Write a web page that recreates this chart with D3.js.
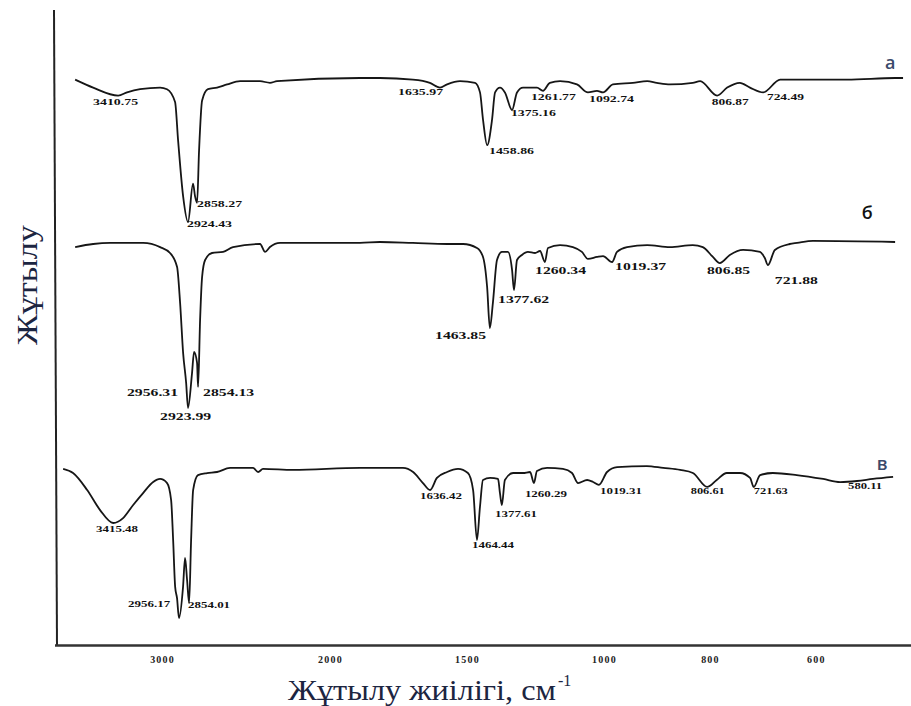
<!DOCTYPE html>
<html>
<head>
<meta charset="utf-8">
<script src="https://cdn.jsdelivr.net/npm/d3@7"></script>
<style>
  body { margin: 0; background: #fff; }
  svg { display: block; }
</style>
</head>
<body>
<div id="chart"></div>
<script>
// IR spectra: [wavenumber cm-1, transmittance %]
var specA = [
  [3595,94],[3488,89],[3339,84],[3286,86],[3208,88],[3089,89],[3048,88],[3000,80],[2982,56],[2952,21],
  [2923,5],[2893,29],[2881,21],[2869,17],[2857,50],[2839,81],[2804,88],[2750,89],[2690,91],[2613,93],
  [2494,93],[2435,92],[2393,93],[1938,95],[1865,95],[1745,94],[1683,92],[1646,89],[1620,91],[1573,93],
  [1518,92],[1500,86],[1489,69],[1474,53],[1456,69],[1445,86],[1427,89],[1409,86],[1383,75],[1365,86],
  [1343,89],[1292,89],[1270,87],[1245,92],[1208,93],[1146,91],[1106,86],[1073,87],[1051,86],[1015,91],
  [970,92],[943,93],[925,92],[900,91],[857,92],[843,93],[811,84],[792,89],[768,92],[749,89],
  [724,86],[692,94],[630,94],[566,94],[475,95],[460,95]
];
var specB = [
  [3595,93.3],[3488,95],[3387,95.6],[3190,95.6],[3089,93.3],[3030,90],[2988,82.2],[2970,62.2],[2952,34.4],[2934,17.8],
  [2923,3.9],[2899,23.3],[2887,35],[2869,28.9],[2863,15.6],[2851,52.8],[2839,76.7],[2821,86.1],[2780,90],[2714,90.6],
  [2655,93.3],[2494,95],[2464,90.6],[2435,93.3],[2375,95.6],[1938,95.6],[1865,96.1],[1745,95.6],[1620,95],[1562,95],
  [1511,92.8],[1489,87.8],[1474,71.1],[1464,48.3],[1453,62.2],[1438,86.1],[1420,90.6],[1398,90.6],[1383,80.6],[1376,69.4],
  [1365,86.1],[1347,88.9],[1325,90.6],[1299,90],[1281,91.1],[1263,85],[1252,92.8],[1208,94.4],[1161,93.3],[1128,90.6],
  [1106,86.7],[1073,87.8],[1051,88.3],[1018,85],[1000,90.6],[981,93.3],[943,94.4],[900,93.3],[857,94.4],[838,93.3],
  [819,87.8],[806,84.4],[787,88.9],[762,91.7],[730,90.6],[721,87.2],[715,83.3],[702,91.7],[674,95],[660,95.6],
  [630,96.7],[475,96.1]
];
var specC = [
  [3601,91.8],[3542,89.4],[3458,79.4],[3381,67.6],[3303,60],[3244,62.9],[3184,70.6],[3125,77.6],[3065,84.1],[3024,85.9],
  [2982,83.5],[2958,73.5],[2946,50],[2934,22.4],[2923,15.9],[2911,4.1],[2887,22.4],[2875,39.4],[2863,26.5],[2851,12.9],
  [2839,50],[2827,79.4],[2798,88.2],[2744,89.4],[2685,90],[2607,92.4],[2470,92.4],[2440,90],[2411,91.8],[2232,91.2],
  [1898,92.4],[1825,92.4],[1741,92.4],[1704,90],[1668,83.5],[1642,79.4],[1617,86.5],[1580,90],[1540,91.8],[1504,89.4],
  [1485,79.4],[1471,50],[1460,69.4],[1449,85.3],[1423,86.5],[1394,85.9],[1387,77.6],[1380,70.6],[1369,85.3],[1339,89.4],
  [1303,89.4],[1277,90],[1263,83.5],[1252,90.6],[1215,92.4],[1157,91.8],[1124,89.4],[1102,83.5],[1069,85.3],[1047,84.1],
  [1026,82.4],[998,90],[979,92.9],[923,93.5],[892,92.4],[860,91.2],[836,89.4],[809,81.2],[791,85.3],[772,89.4],
  [747,89.4],[728,86.5],[721,81.2],[709,88.2],[685,89.4],[640,88.2],[590,85.9],[558,84.1],[526,84.7],[496,85.9],
  [458,87.1]
];

// peak labels: [anchor wavenumber, anchor transmittance, text]
var peaksA = [
  [3488,78.1,"3410.75"],[2929,1.9,"2924.43"],[2869,14.4,"2858.27"],[1799,84.4,"1635.97"],[1467,47.5,"1458.86"],
  [1387,71.3,"1375.16"],[1314,81.3,"1261.77"],[1102,80,"1092.74"],[821,78.1,"806.87"],[717,81.3,"724.49"]
];
var peaksB = [
  [3286,10.6,"2956.31"],[2833,10.6,"2854.13"],[3089,-2.8,"2923.99"],[1664,42.2,"1463.85"],[1434,62.2,"1377.62"],
  [1299,78.3,"1260.34"],[1007,80.6,"1019.37"],[830,78.3,"806.85"],[702,72.8,"721.88"]
];
var peaksC = [
  [3405,54.7,"3415.48"],[3214,10.6,"2956.17"],[2857,10,"2854.01"],[1679,74.1,"1636.42"],[1489,45.3,"1464.44"],
  [1405,63.5,"1377.61"],[1296,75.3,"1260.29"],[1022,77.1,"1019.31"],[840,77.1,"806.61"],[721,77.1,"721.63"],
  [543,80,"580.11"]
];

var traceNames = ["а", "б", "в"];
var nameAnchors = [[494,100.6],[538,108.9],[489,91.2]];
var tickValues = [3000, 2000, 1500, 1000, 800, 600];

///////////////////////////////////////////////////////////////////////////
//////////////////////////////// Set up ///////////////////////////////////
///////////////////////////////////////////////////////////////////////////

var width = 911, height = 706;

var svg = d3.select("#chart").append("svg")
    .attr("width", width)
    .attr("height", height);

//The instrument plot is expanded below 2000 and again below 1000
var x = d3.scaleLinear()
    .domain([3715, 2000, 1000, 445])
    .range([55, 343, 617, 911]);

var panels = [
  {data: specA, peaks: peaksA, dx: 0,   y: [230, 70],  font: 8,  w7: 45, w6: 37, nameColor: "#3b4a6b"},
  {data: specB, peaks: peaksB, dx: 0,   y: [415, 235], font: 11, w7: 51, w6: 43, nameColor: "#111"},
  {data: specC, peaks: peaksC, dx: -11, y: [625, 455], font: 8,  w7: 42, w6: 34, nameColor: "#3b4a6b"}
];

///////////////////////////////////////////////////////////////////////////
/////////////////////////////// Draw traces ///////////////////////////////
///////////////////////////////////////////////////////////////////////////

panels.forEach(function(p, i) {
  var y = d3.scaleLinear().domain([0, 100]).range(p.y);

  var g = svg.append("g")
      .attr("transform", "translate(" + p.dx + ",0)");

  var line = d3.line()
      .x(function(d) { return x(d[0]); })
      .y(function(d) { return y(d[1]); })
      .curve(d3.curveMonotoneX);

  g.append("path")
      .datum(p.data)
      .attr("d", line)
      .style("fill", "none")
      .style("stroke", "#161616")
      .style("stroke-width", 1.8)
      .style("stroke-linejoin", "round");

  g.selectAll(".peak")
      .data(p.peaks)
      .enter().append("text")
      .attr("class", "peak")
      .attr("x", function(d) { return x(d[0]); })
      .attr("y", function(d) { return y(d[1]); })
      .attr("textLength", function(d) { return d[2].length > 6 ? p.w7 : p.w6; })
      .attr("lengthAdjust", "spacingAndGlyphs")
      .style("font-family", "'Liberation Serif', 'Times New Roman', serif")
      .style("font-weight", "bold")
      .style("font-size", p.font + "px")
      .style("fill", "#111")
      .text(function(d) { return d[2]; });

  g.append("text")
      .attr("x", x(nameAnchors[i][0]))
      .attr("y", y(nameAnchors[i][1]))
      .style("font-family", "'Open Sans', 'DejaVu Sans', sans-serif")
      .style("font-size", "18px")
      .style("font-weight", "600")
      .style("fill", p.nameColor)
      .text(traceNames[i]);
});

///////////////////////////////////////////////////////////////////////////
///////////////////////////////// Axes ////////////////////////////////////
///////////////////////////////////////////////////////////////////////////

//Frame: left and bottom only
svg.append("line")
    .attr("x1", 54).attr("y1", 10)
    .attr("x2", 57).attr("y2", 646)
    .style("stroke", "#222")
    .style("stroke-width", 2);

svg.append("line")
    .attr("x1", x.range()[0]).attr("y1", 645.5)
    .attr("x2", x.range()[x.range().length - 1]).attr("y2", 645.5)
    .style("stroke", "#333")
    .style("stroke-width", 2.5);

//Printed tick labels sit a little left of the trace positions
var axis = svg.append("g")
    .attr("transform", "translate(-13,645)")
    .call(d3.axisBottom(x).tickValues(tickValues).tickSize(0).tickPadding(11).tickFormat(d3.format("d")));

axis.select(".domain").remove();
axis.selectAll("text")
    .style("font-family", "'Liberation Serif', 'Times New Roman', serif")
    .style("font-weight", "bold")
    .style("font-size", "10px")
    .style("letter-spacing", "1.2px")
    .style("fill", "#222");

//Axis titles
svg.append("text")
    .attr("x", 288)
    .attr("y", 700)
    .attr("textLength", 268)
    .attr("lengthAdjust", "spacingAndGlyphs")
    .style("font-family", "'Liberation Serif', 'Times New Roman', serif")
    .style("font-size", "30px")
    .style("fill", "#1c2541")
    .text("Жұтылу жиілігі, см");

svg.append("text")
    .attr("x", 558)
    .attr("y", 686)
    .style("font-family", "'Liberation Serif', 'Times New Roman', serif")
    .style("font-size", "16px")
    .style("fill", "#1c2541")
    .text("-1");

svg.append("text")
    .attr("transform", "translate(37,285) rotate(-90)")
    .attr("text-anchor", "middle")
    .attr("textLength", 120)
    .attr("lengthAdjust", "spacingAndGlyphs")
    .style("font-family", "'Liberation Serif', 'Times New Roman', serif")
    .style("font-size", "30px")
    .style("fill", "#1c2541")
    .text("Жұтылу");
</script>
</body>
</html>
